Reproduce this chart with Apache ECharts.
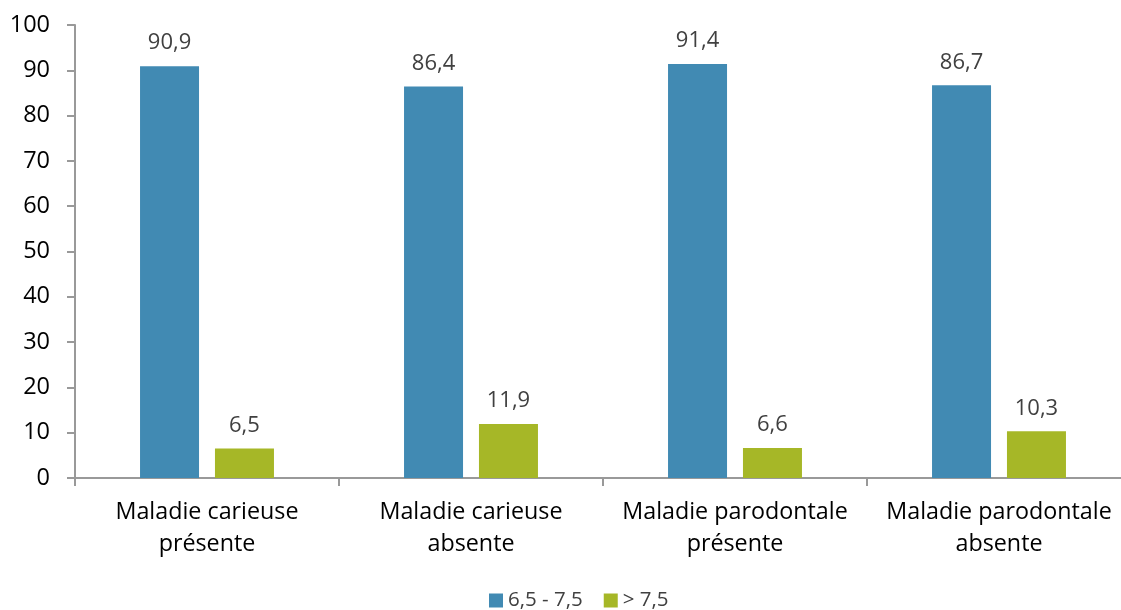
<!DOCTYPE html>
<html><head><meta charset="utf-8">
<script src="https://cdn.jsdelivr.net/npm/echarts@6/dist/echarts.min.js"></script>
<style>html,body{margin:0;padding:0;background:#fff}#c{width:1121px;height:610px}</style>
</head><body><div id="c"></div>
<script>
const categories = ["Maladie carieuse\nprésente", "Maladie carieuse\nabsente", "Maladie parodontale\nprésente", "Maladie parodontale\nabsente"];
const seriesNames = ["6,5 - 7,5", "> 7,5"];
const values1 = [90.9, 86.4, 91.4, 86.7];
const values2 = [6.5, 11.9, 6.6, 10.3];
const colors = ["#418AB3", "#A6B727"];
const font = "'Open Sans', sans-serif";
const chart = echarts.init(document.getElementById('c'));
const lbl = {show:true, position:'top', distance:12, color:'#404040', fontSize:22, fontFamily:font,
  formatter: p => p.value.toFixed(1).replace('.', ',')};
chart.setOption({
  animation:false,
  color: colors,
  grid:{left:75, top:25, width:1056, height:453, containLabel:false, outerBoundsMode:'none'},
  legend:{top:590, left:489, padding:0, itemWidth:14, itemHeight:14, itemGap:21, itemStyle:{borderWidth:0}, icon:'rect',
    textStyle:{fontSize:20.5, color:'#404040', fontFamily:font}, data:seriesNames},
  xAxis:{type:'category', data:categories,
    axisLine:{lineStyle:{color:'#999', width:2}},
    axisTick:{show:true, interval:0, length:8, lineStyle:{color:'#999', width:2}},
    axisLabel:{interval:0, fontSize:23.3, color:'#000', fontFamily:font, lineHeight:32, margin:18}},
  yAxis:{type:'value', min:0, max:100, interval:10,
    splitLine:{show:false},
    axisLine:{show:true, lineStyle:{color:'#999', width:2}},
    axisTick:{show:true, length:8, lineStyle:{color:'#999', width:2}},
    axisLabel:{fontSize:23.5, color:'#000', fontFamily:font, margin:25}},
  series:[
    {name:seriesNames[0], type:'bar', data:values1, barWidth:59, barGap:'27%', label:lbl},
    {name:seriesNames[1], type:'bar', data:values2, barWidth:59, barGap:'27%', label:lbl}
  ]
});
</script></body></html>
